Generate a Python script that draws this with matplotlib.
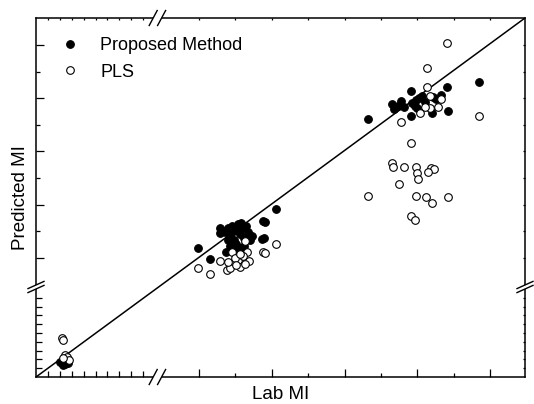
import numpy as np
import matplotlib
matplotlib.use("Agg")
import matplotlib.pyplot as plt
from matplotlib.lines import Line2D
from matplotlib.patches import Rectangle

plt.rcParams['font.family'] = ['Liberation Sans', 'DejaVu Sans']

# ---------------- data (Lab MI vs Predicted MI) ----------------
proposed_x = [0.216, 0.244, 0.271, 0.202, 0.229,
              3.96, 4.60, 5.15, 5.15, 7.53, 7.45, 8.22, 7.63, 7.57,
              5.43, 5.59, 5.70, 5.81, 5.92, 6.03, 6.14, 6.25, 6.36, 6.47,
              6.58, 6.69, 6.03, 6.25, 5.70, 5.48, 6.47, 6.80, 5.81, 6.31,
              5.92, 5.59, 6.91,
              13.29, 15.64, 17.62, 19.39, 14.63, 15.09, 14.72, 15.27, 15.91,
              16.09, 15.86, 16.00, 15.64, 16.88, 17.29, 16.83, 17.71, 15.71,
              16.42, 14.94, 16.26, 17.03]
proposed_y = [0.156, 0.148, 0.163, 0.174, 0.136,
              4.73, 3.90, 6.23, 5.86, 6.80, 5.43, 7.66, 6.73, 5.50,
              5.95, 6.25, 5.65, 6.40, 5.35, 6.10, 6.55, 5.80, 6.25, 5.50,
              6.40, 5.95, 5.05, 4.75, 4.90, 4.45, 4.90, 5.35, 5.95, 6.63,
              4.60, 5.35, 5.65,
              14.44, 16.57, 16.82, 17.22, 15.57, 15.80, 15.17, 15.32, 15.87,
              16.00, 15.42, 15.25, 14.67, 16.12, 16.25, 14.92, 15.04, 15.65,
              15.72, 15.42, 16.17, 15.95]

pls_x = [0.216, 0.229, 0.244, 0.258, 0.280, 0.229,
         3.96, 4.60, 5.15, 5.52, 5.70, 5.80, 6.16, 6.25, 6.53, 6.62, 6.77,
         7.53, 8.22, 7.63, 5.98, 6.42, 6.03, 6.53, 5.59, 6.25,
         17.62, 16.55, 16.55, 16.68, 17.29, 17.14, 16.68, 16.42, 16.13,
         15.09, 19.39, 15.64, 14.63, 14.68, 15.27, 15.91, 15.97, 16.04,
         16.74, 16.92, 16.61, 15.00, 13.29, 15.91, 16.46, 17.69, 16.83,
         15.64, 15.87]
pls_y = [0.44, 0.42, 0.25, 0.227, 0.193, 0.216,
         3.23, 2.80, 3.77, 3.10, 3.23, 4.43, 3.85, 3.35, 5.30, 4.47, 3.80,
         4.47, 5.03, 4.35, 4.00, 4.15, 3.47, 3.55, 3.70, 4.30,
         20.13, 18.25, 16.82, 16.19, 15.95, 15.37, 15.25, 15.32, 14.92,
         14.24, 14.67, 12.66, 11.11, 10.81, 10.81, 10.86, 10.36, 9.91,
         10.74, 10.66, 10.48, 9.56, 8.66, 8.66, 8.61, 8.61, 8.15,
         7.16, 6.86]

legend_labels = ["Proposed Method", "PLS"]
x_label = "Lab MI"
y_label = "Predicted MI"

# axis segments (broken axes): low segment [0, 1.02], high segment [1.71, 21.92]
x_low_ticks = [0.1, 0.2, 0.3, 0.4, 0.5, 0.6, 0.7, 0.8, 0.9]
x_major_ticks = [4, 8, 12, 16, 20]
x_minor_ticks = [6, 10, 14, 18]
y_low_ticks = [0.1, 0.2, 0.3, 0.4, 0.5, 0.6, 0.7, 0.8, 0.9]
y_major_ticks = [4, 8, 12, 16, 20]
y_minor_ticks = [6, 10, 14, 18]

# ---------------- figure ----------------
W, H = 534, 404
fig = plt.figure(figsize=(W / 100, H / 100), dpi=100)
L, R, T, B = 36, 525, 18, 377
ax = fig.add_axes([L / W, 1 - B / H, (R - L) / W, (B - T) / H])

XV = [-100, 0, 1.02, 1.713, 21.92, 200]
XP = [-11900, 0, 121.4, 121.41, 489, 489 + 178.08 * 18.19]
YV = [-100, 0, 1.023, 1.82, 22.03, 200]
YP = [-8800, 0, 90, 90.01, 359, 359 + 177.97 * 13.31]


def fx(v):
    return np.interp(v, XV, XP)


def ifx(p):
    return np.interp(p, XP, XV)


def fy(v):
    return np.interp(v, YV, YP)


def ify(p):
    return np.interp(p, YP, YV)


ax.set_xscale('function', functions=(fx, ifx))
ax.set_yscale('function', functions=(fy, ify))
ax.set_xlim(0, 21.92)
ax.set_ylim(0, 22.03)

ax.plot([0, 1], [0, 1], transform=ax.transAxes, color='black', lw=1.1, zorder=1.5)

ms = 5.5
ax.plot(proposed_x, proposed_y, 'o', ls='none', ms=ms, mfc='black', mec='black',
        mew=0.8, zorder=2)
ax.plot(pls_x, pls_y, 'o', ls='none', ms=ms, mfc='white', mec='black',
        mew=0.8, zorder=2.1)

handles = [Line2D([], [], marker='o', ls='none', ms=ms, mfc='black', mec='black', mew=0.8),
           Line2D([], [], marker='o', ls='none', ms=ms, mfc='white', mec='black', mew=0.8)]
ax.legend(handles, legend_labels, loc='upper left', bbox_to_anchor=(0.036, 0.966),
          frameon=False, fontsize=13, handlelength=1.0, handletextpad=1.17,
          labelspacing=0.52, borderaxespad=0, borderpad=0.4, numpoints=1)

for s in ax.spines.values():
    s.set_linewidth(1.1)

# main ticks (bottom / left)
ax.set_xticks(x_low_ticks + x_major_ticks)
ax.set_xticks(x_minor_ticks, minor=True)
ax.set_yticks(y_low_ticks + y_major_ticks)
ax.set_yticks(y_minor_ticks, minor=True)
ax.tick_params(which='both', direction='in', top=False, right=False,
               labelbottom=False, labelleft=False, width=0.9)
ax.tick_params(which='major', length=5.8)
ax.tick_params(which='minor', length=2.9)
for t, loc in zip(ax.xaxis.get_major_ticks(), x_low_ticks + x_major_ticks):
    if loc < 1.5:
        t.tick1line.set_markersize(4.0)
for t, loc in zip(ax.yaxis.get_major_ticks(), y_low_ticks + y_major_ticks):
    if loc < 1.5:
        t.tick1line.set_markersize(4.0)

# top / right small ticks via twin axes
axt = ax.twiny()
axt.set_xscale('function', functions=(fx, ifx))
axt.set_xlim(0, 21.92)
axt.set_xticks(x_low_ticks + x_major_ticks)
axt.set_xticks(x_minor_ticks, minor=True)
axt.tick_params(which='both', direction='in', length=1.6, width=0.9,
                labeltop=False, top=True, bottom=False)
axr = ax.twinx()
axr.set_yscale('function', functions=(fy, ify))
axr.set_ylim(0, 22.03)
axr.set_yticks(y_low_ticks + y_major_ticks)
axr.set_yticks(y_minor_ticks, minor=True)
axr.tick_params(which='both', direction='in', length=1.6, width=0.9,
                labelright=False, right=True, left=False)
for a in (axt, axr):
    for s in a.spines.values():
        s.set_visible(False)

ax.xaxis.set_label_coords(0.506, -0.024)
ax.set_xlabel(x_label, fontsize=13.5)
ax.yaxis.set_label_coords(-0.015, 0.465)
ax.set_ylabel(y_label, fontsize=13.5)

# ---------------- break marks ----------------
def figpt(px, py):
    return (px / W, 1 - py / H)


def fig_line(p1, p2):
    a, b = figpt(*p1), figpt(*p2)
    fig.add_artist(Line2D([a[0], b[0]], [a[1], b[1]], color='black', lw=1.0,
                          transform=fig.transFigure, zorder=10))


def fig_white(x0, y0, x1, y1):
    a = figpt(x0, y1)
    b = figpt(x1, y0)
    fig.add_artist(Rectangle(a, b[0] - a[0], b[1] - a[1], transform=fig.transFigure,
                             facecolor='white', edgecolor='none', zorder=9))


bx = L + fx(1.02)
by = B - fy(1.023)
for sy in (T, B):
    fig_white(bx - 4.2, sy - 2, bx + 4.2, sy + 2)
    for dx in (-4.2, 4.2):
        fig_line((bx + dx - 4, sy + 7.5), (bx + dx + 4, sy - 7.5))
for sx in (L, R):
    fig_white(sx - 2, by - 2, sx + 2, by + 2)
    for dy in (-2.0, 2.0):
        fig_line((sx - 8, by + dy + 3.6), (sx + 8, by + dy - 3.6))

fig.savefig("out.png", dpi=100)
